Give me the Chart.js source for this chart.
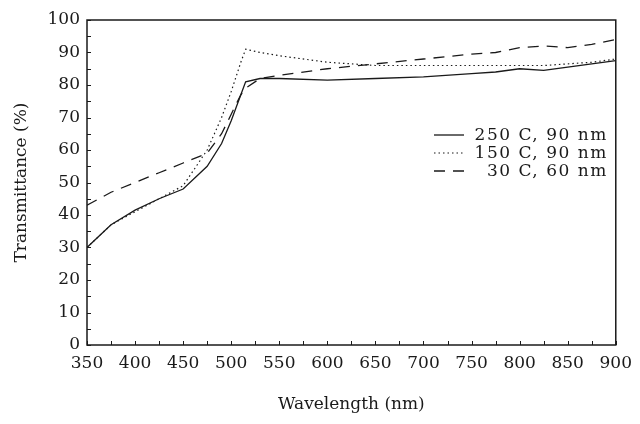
<!DOCTYPE html>
<html>
<head>
<meta charset="utf-8">
<script src="https://cdn.jsdelivr.net/npm/chart.js@4"></script>
<style>
  html, body { margin: 0; padding: 0; background: #fff; }
  #chart { display: block; }
</style>
</head>
<body>
<canvas id="chart" width="640" height="424"></canvas>
<script>
const wavelengths = [350, 375, 400, 425, 450, 475, 490, 500, 510, 515, 530, 550, 600, 650, 700, 750, 775, 800, 825, 850, 875, 900];

// transmittance (%) per sample
const t250 = [30, 37, 41.5, 45, 48, 55, 62, 69, 77, 81, 82, 82, 81.5, 82, 82.5, 83.5, 84, 85, 84.5, 85.5, 86.5, 87.5];
const t150 = [30, 37, 41, 45, 49, 60, 70, 78, 87, 91, 90, 89, 87, 86, 86, 86, 86, 86, 86, 86.5, 87, 88];
const t30  = [43, 47, 50, 53, 56, 59, 65, 71, 77, 79, 82, 83, 85, 86.5, 88, 89.5, 90, 91.5, 92, 91.5, 92.5, 94];

const seriesLabels = ['250 C, 90 nm', '150 C, 90 nm', '30 C, 60 nm'];

const ink = '#1a1a1a';
const fontFamily = '"DejaVu Serif", "Liberation Serif", serif';

function toPoints(values) {
  return wavelengths.map((w, i) => ({ x: w, y: values[i] }));
}

// frame, inward ticks and the legend inside the plot
const framePlugin = {
  id: 'frame',
  afterDraw(chart) {
    const ctx = chart.ctx;
    const area = chart.chartArea;
    const xs = chart.scales.x;
    const ys = chart.scales.y;
    ctx.save();
    ctx.strokeStyle = ink;
    ctx.lineWidth = 1.5;
    ctx.strokeRect(area.left, area.top, area.right - area.left, area.bottom - area.top);

    ctx.lineWidth = 1;
    ctx.beginPath();
    for (let w = 350; w <= 900; w += 25) {
      const px = Math.round(xs.getPixelForValue(w)) + 0.5;
      ctx.moveTo(px, area.bottom);
      ctx.lineTo(px, area.bottom - 4);
    }
    for (let v = 0; v <= 100; v += 5) {
      const py = Math.round(ys.getPixelForValue(v)) + 0.5;
      ctx.moveTo(area.left, py);
      ctx.lineTo(area.left + 4, py);
    }
    ctx.stroke();

    // legend
    ctx.font = '17px ' + fontFamily;
    ctx.letterSpacing = '1.5px';
    ctx.fillStyle = ink;
    ctx.textAlign = 'right';
    ctx.textBaseline = 'middle';
    const textRight = area.right - 8;
    chart.data.datasets.forEach((ds, i) => {
      const y = 135 + i * 18;
      ctx.beginPath();
      ctx.lineWidth = ds.borderWidth;
      ctx.setLineDash(ds.borderDash || []);
      ctx.moveTo(434, y);
      ctx.lineTo(464, y);
      ctx.stroke();
      ctx.setLineDash([]);
      ctx.fillText(ds.label, textRight, y + 1);
    });
    ctx.restore();
  }
};

new Chart(document.getElementById('chart'), {
  type: 'line',
  data: {
    datasets: [
      {
        label: seriesLabels[0],
        data: toPoints(t250),
        borderColor: ink,
        borderWidth: 1.3,
        borderDash: [],
        pointRadius: 0,
        tension: 0,
        fill: false
      },
      {
        label: seriesLabels[1],
        data: toPoints(t150),
        borderColor: ink,
        borderWidth: 1.2,
        borderDash: [1.5, 3],
        pointRadius: 0,
        tension: 0,
        fill: false
      },
      {
        label: seriesLabels[2],
        data: toPoints(t30),
        borderColor: ink,
        borderWidth: 1.3,
        borderDash: [11, 8],
        pointRadius: 0,
        tension: 0,
        fill: false
      }
    ]
  },
  options: {
    responsive: false,
    animation: false,
    layout: { padding: { left: 0, top: 20, right: 20, bottom: 0 } },
    plugins: {
      legend: { display: false },
      tooltip: { enabled: false }
    },
    scales: {
      x: {
        type: 'linear',
        min: 350,
        max: 900,
        ticks: {
          stepSize: 50,
          color: ink,
          padding: 8,
          maxRotation: 0,
          font: { family: fontFamily, size: 17 }
        },
        grid: { display: false, drawTicks: false },
        border: { display: false },
        title: {
          display: true,
          text: 'Wavelength (nm)',
          color: ink,
          padding: { top: 0, bottom: 9 },
          font: { family: fontFamily, size: 17 }
        },
        afterFit(scale) { scale.height = 79; }
      },
      y: {
        min: 0,
        max: 100,
        ticks: {
          stepSize: 10,
          color: ink,
          padding: 7,
          font: { family: fontFamily, size: 17 }
        },
        grid: { display: false, drawTicks: false },
        border: { display: false },
        title: {
          display: true,
          text: 'Transmittance (%)',
          color: ink,
          padding: { top: 11, bottom: 0 },
          font: { family: fontFamily, size: 17 }
        },
        afterFit(scale) { scale.width = 87; }
      }
    }
  },
  plugins: [framePlugin]
});
</script>
</body>
</html>
